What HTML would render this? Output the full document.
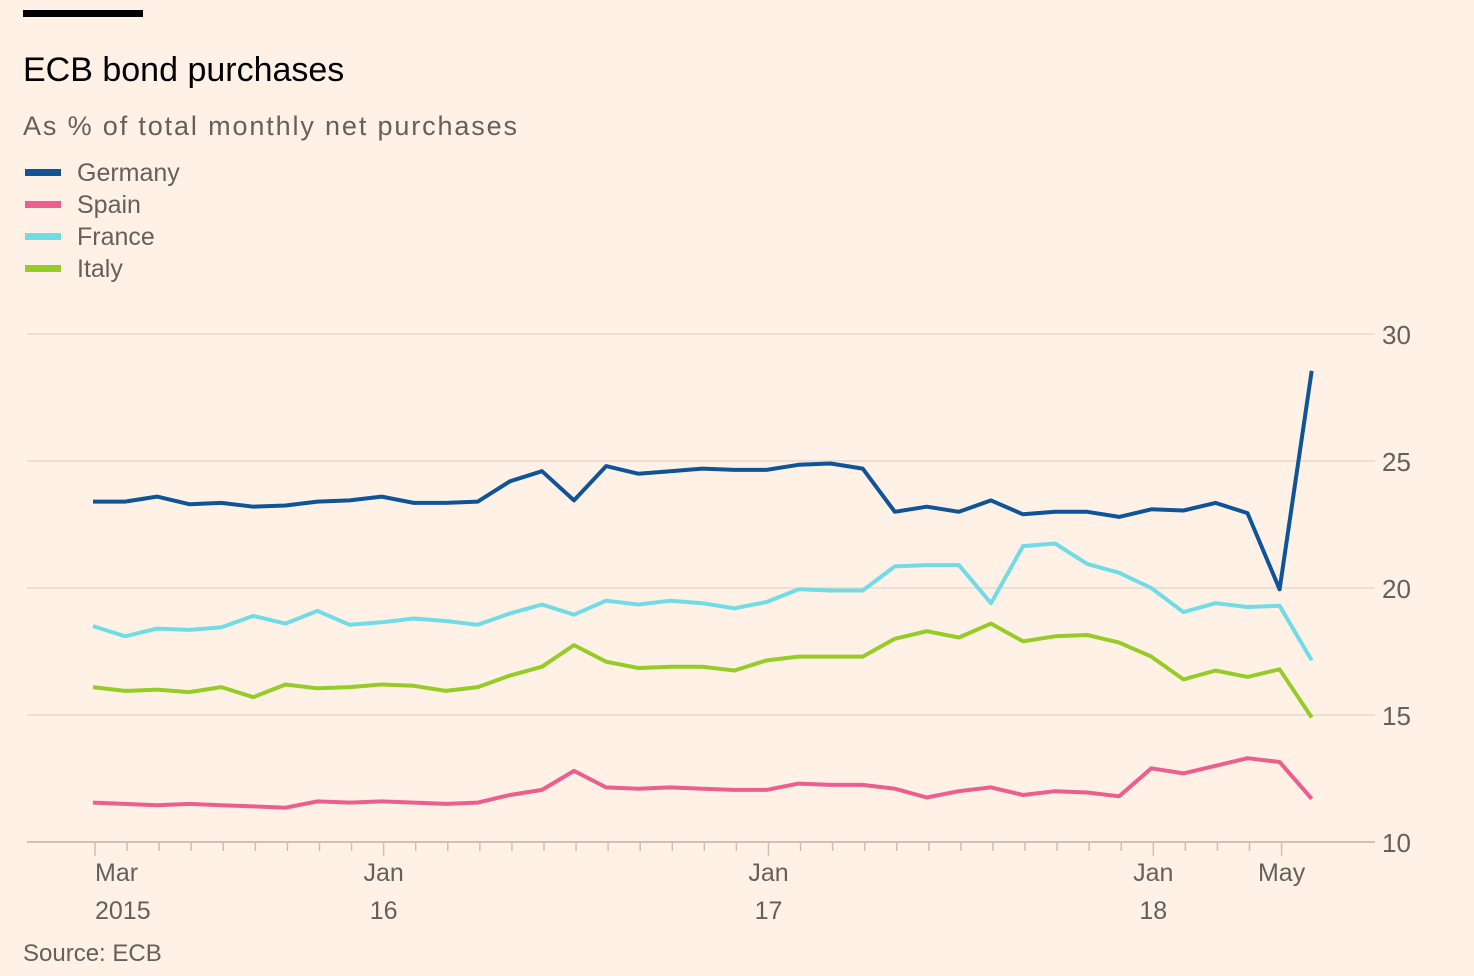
<!DOCTYPE html>
<html><head><meta charset="utf-8"><style>
html,body{margin:0;padding:0;background:#fff1e5;}
body{width:1474px;height:976px;overflow:hidden;position:relative;font-family:"Liberation Sans",sans-serif;}
svg{position:absolute;left:0;top:0;}
</style></head><body>
<svg width="1474" height="976">
<rect x="23" y="10" width="120" height="7" fill="#000"/>
<text x="23" y="81" font-size="34" fill="#000">ECB bond purchases</text>
<text x="23" y="135" font-size="27" fill="#66605c" textLength="494">As % of total monthly net purchases</text>
<g id="legend"></g>
<g id="grid"></g>
<g id="xaxis"></g>
<g id="lines"></g>
<text x="23" y="961" font-size="24" fill="#66605c">Source: ECB</text>
</svg>
<script>
const seriesNames=["Germany","Spain","France","Italy"];
const seriesColors=["#0f5499","#eb5e8d","#70dce6","#96cc28"];
const germany=[23.4,23.4,23.6,23.3,23.35,23.2,23.25,23.4,23.45,23.6,23.35,23.35,23.4,24.2,24.6,23.45,24.8,24.5,24.6,24.7,24.65,24.65,24.85,24.9,24.7,23.0,23.2,23.0,23.45,22.9,23.0,23.0,22.8,23.1,23.05,23.35,22.95,19.95,28.55];
const spain=[11.55,11.5,11.45,11.5,11.45,11.4,11.35,11.6,11.55,11.6,11.55,11.5,11.55,11.85,12.05,12.8,12.15,12.1,12.15,12.1,12.05,12.05,12.3,12.25,12.25,12.1,11.75,12.0,12.15,11.85,12.0,11.95,11.8,12.9,12.7,13.0,13.3,13.15,11.7];
const france=[18.5,18.1,18.4,18.35,18.45,18.9,18.6,19.1,18.55,18.65,18.8,18.7,18.55,19.0,19.35,18.95,19.5,19.35,19.5,19.4,19.2,19.45,19.95,19.9,19.9,20.85,20.9,20.9,19.4,21.65,21.75,20.95,20.6,20.0,19.05,19.4,19.25,19.3,17.15];
const italy=[16.1,15.95,16.0,15.9,16.1,15.7,16.2,16.05,16.1,16.2,16.15,15.95,16.1,16.55,16.9,17.75,17.1,16.85,16.9,16.9,16.75,17.15,17.3,17.3,17.3,18.0,18.3,18.05,18.6,17.9,18.1,18.15,17.85,17.3,16.4,16.75,16.5,16.8,14.9];
const yTicks=[10,15,20,25,30];
const xLabelIdx=[0,9,21,33,37];
const xLabelTop=["Mar","Jan","Jan","Jan","May"];
const xLabelBottom=["2015","16","17","18",""];
const allSeries=[germany,spain,france,italy];
const NS="http://www.w3.org/2000/svg";
function xs(i){return 93+i*32.07;}
function ys(v){return 842-(v-10)*25.4;}
function mk(tag,attrs,parent){const e=document.createElementNS(NS,tag);for(const k in attrs)e.setAttribute(k,attrs[k]);parent.appendChild(e);return e;}
const grid=document.getElementById('grid');
yTicks.forEach(t=>{
  const l=mk('line',{x1:27,x2:1375,y1:ys(t),y2:ys(t),stroke:t===10?'#ccc1b7':'#e6d9ce','stroke-width':t===10?2:1.5},grid);
  
  
  const tx=mk('text',{x:1382,y:ys(t)+10,'font-size':26,fill:'#66605c'},grid);
  tx.textContent=t;
  
  
});
const xa=document.getElementById('xaxis');
for(let i=0;i<=37;i++){
  const x=xs(i)+2;
  const isJan=xLabelIdx.indexOf(i)>=0;
  const tk=mk('line',{x1:x,x2:x,y1:843,y2:isJan?856:851,stroke:'#ccc1b7','stroke-width':1.5},xa);
  
  
}
xLabelIdx.forEach((idx,k)=>{
  const x=idx===0?95:xs(idx)+2;
  const anchor=idx===0?'start':'middle';
  const t1=mk('text',{x:x,y:881,'font-size':25,fill:'#66605c','text-anchor':anchor},xa);
  t1.textContent=xLabelTop[k];
  
  
  if(xLabelBottom[k]){
    const t2=mk('text',{x:x,y:919,'font-size':25,fill:'#66605c','text-anchor':anchor},xa);
    t2.textContent=xLabelBottom[k];
    
    
  }
});
const lg=document.getElementById('legend');
seriesNames.forEach((n,k)=>{
  const y=172+k*32;
  const r=mk('rect',{x:25,y:y-3,width:36,height:7,fill:seriesColors[k]},lg);
  
  
  const t=mk('text',{x:77,y:y+9,'font-size':25,fill:'#66605c'},lg);
  t.textContent=n;
  
  
});
const lines=document.getElementById('lines');
allSeries.forEach((s,k)=>{
  const pts=s.map((v,i)=>xs(i).toFixed(1)+','+ys(v).toFixed(1)).join(' ');
  const p=mk('polyline',{points:pts,fill:'none',stroke:seriesColors[k],'stroke-width':4,'stroke-linejoin':'round'},lines);
  
  
});
</script>
</body></html>
